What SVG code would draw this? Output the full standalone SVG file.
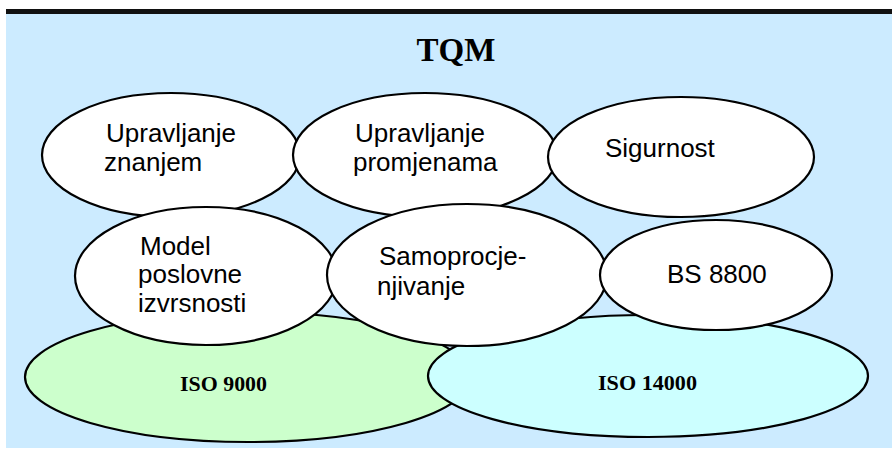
<svg xmlns="http://www.w3.org/2000/svg" width="892" height="450" viewBox="0 0 892 450">
<style>
.e{stroke:#000;stroke-width:2.2}
.w{fill:#fff}
.t{font-family:"Liberation Sans",Arial,sans-serif;font-size:26px;fill:#000}
.s{font-family:"Liberation Serif","Times New Roman",serif;font-weight:bold;fill:#000}
</style>
<rect x="0" y="0" width="892" height="450" fill="#fff"/>
<rect x="6" y="14" width="886" height="434" fill="#CCEBFF"/>
<rect x="6" y="9" width="886" height="5" fill="#111"/>
<text class="s" x="456" y="61" font-size="33" text-anchor="middle">TQM</text>
<g id="iso9000">
<ellipse class="e" cx="248" cy="377" rx="223" ry="65" fill="#CCFFCC"/>
<text class="s" x="180" y="391" font-size="22" textLength="87" lengthAdjust="spacingAndGlyphs">ISO 9000</text>
</g>
<g id="iso14000">
<ellipse class="e" cx="648" cy="376" rx="220" ry="61" fill="#CCFFFF"/>
<text class="s" x="598" y="390" font-size="22" textLength="99" lengthAdjust="spacingAndGlyphs">ISO 14000</text>
</g>
<g id="upravljanje-znanjem">
<ellipse class="e w" cx="171" cy="155" rx="129" ry="62"/>
<text class="t" x="106" y="142">Upravljanje</text>
<text class="t" x="104" y="171">znanjem</text>
</g>
<g id="upravljanje-promjenama">
<ellipse class="e w" cx="425" cy="155" rx="132" ry="62"/>
<text class="t" x="355" y="142">Upravljanje</text>
<text class="t" x="353" y="171">promjenama</text>
</g>
<g id="sigurnost">
<ellipse class="e w" cx="681" cy="157" rx="133" ry="60"/>
<text class="t" x="605" y="157">Sigurnost</text>
</g>
<g id="model">
<ellipse class="e w" cx="206" cy="276" rx="131" ry="69"/>
<text class="t" x="140" y="255">Model</text>
<text class="t" x="138" y="283">poslovne</text>
<text class="t" x="138" y="312">izvrsnosti</text>
</g>
<g id="samoprocjenjivanje">
<ellipse class="e w" cx="467" cy="275" rx="140" ry="71"/>
<text class="t" x="379" y="265">Samoprocje-</text>
<text class="t" x="377" y="295">njivanje</text>
</g>
<g id="bs8800">
<ellipse class="e w" cx="716" cy="275" rx="116" ry="55"/>
<text class="t" x="667" y="283">BS 8800</text>
</g>
<g id="connectors"></g>
</svg>
